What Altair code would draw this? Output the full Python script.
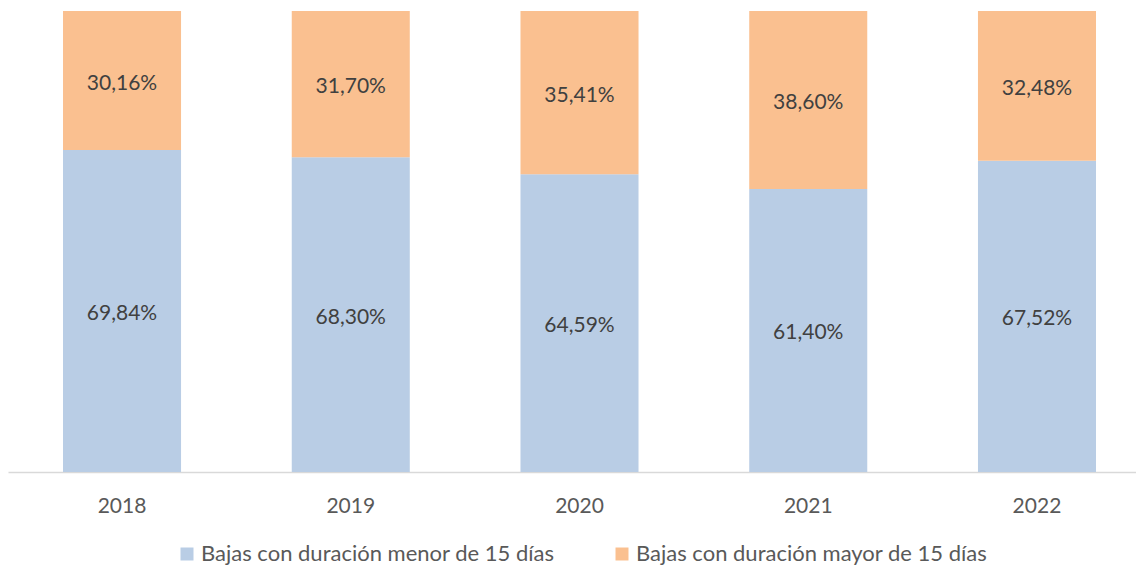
import altair as alt
import pandas as pd

years = ["2018", "2019", "2020", "2021", "2022"]
menor = [69.84, 68.30, 64.59, 61.40, 67.52]
mayor = [30.16, 31.70, 35.41, 38.60, 32.48]
series = ["Bajas con duración menor de 15 días", "Bajas con duración mayor de 15 días"]
colors = ["#B9CDE5", "#FAC090"]

rows = []
for y, a, b in zip(years, menor, mayor):
    rows.append({"year": y, "serie": series[0], "value": a, "order": 0,
                 "label": f"{a:.2f}%".replace(".", ",")})
    rows.append({"year": y, "serie": series[1], "value": b, "order": 1,
                 "label": f"{b:.2f}%".replace(".", ",")})
df = pd.DataFrame(rows)

FONT = "Lato"

xenc = alt.X("year:N", sort=years, title=None,
             scale=alt.Scale(paddingInner=0.484, paddingOuter=0.2077, align=0.579),
             axis=alt.Axis(labelAngle=0, labelFontSize=21, labelColor="#595959",
                           labelFont=FONT, labelPadding=23, ticks=False,
                           domainColor="#D9D9D9", domainWidth=1.5))

base = alt.Chart(df).transform_stack(
    stack="value", groupby=["year"], as_=["v0", "v1"], sort=[alt.SortField("order")]
).transform_calculate(mid="(datum.v0 + datum.v1) / 2")

bars = base.mark_bar().encode(
    x=xenc,
    y=alt.Y("v0:Q", scale=alt.Scale(domain=[0, 100], nice=False), axis=None),
    y2="v1:Q",
    color=alt.Color("serie:N", sort=series,
                    scale=alt.Scale(domain=series, range=colors),
                    legend=alt.Legend(title=None, orient="none", direction="horizontal",
                                      legendX=168, legendY=532,
                                      labelFont=FONT, labelFontSize=22, labelColor="#595959",
                                      labelLimit=600,
                                      symbolType="square", symbolSize=169,
                                      symbolStrokeWidth=0, columnPadding=56,
                                      labelOffset=3)),
)

text = base.mark_text(font=FONT, fontSize=21, color="#404040", dy=3).encode(
    x=xenc,
    y=alt.Y("mid:Q"),
    text="label:N",
)

chart = alt.layer(bars, text).properties(
    width=1128, height=461,
    padding={"top": 3, "left": 0, "right": 0, "bottom": 0},
    background="white",
).configure_view(stroke=None)

chart.save("out.html", embed_options={"renderer": "svg", "actions": False})
